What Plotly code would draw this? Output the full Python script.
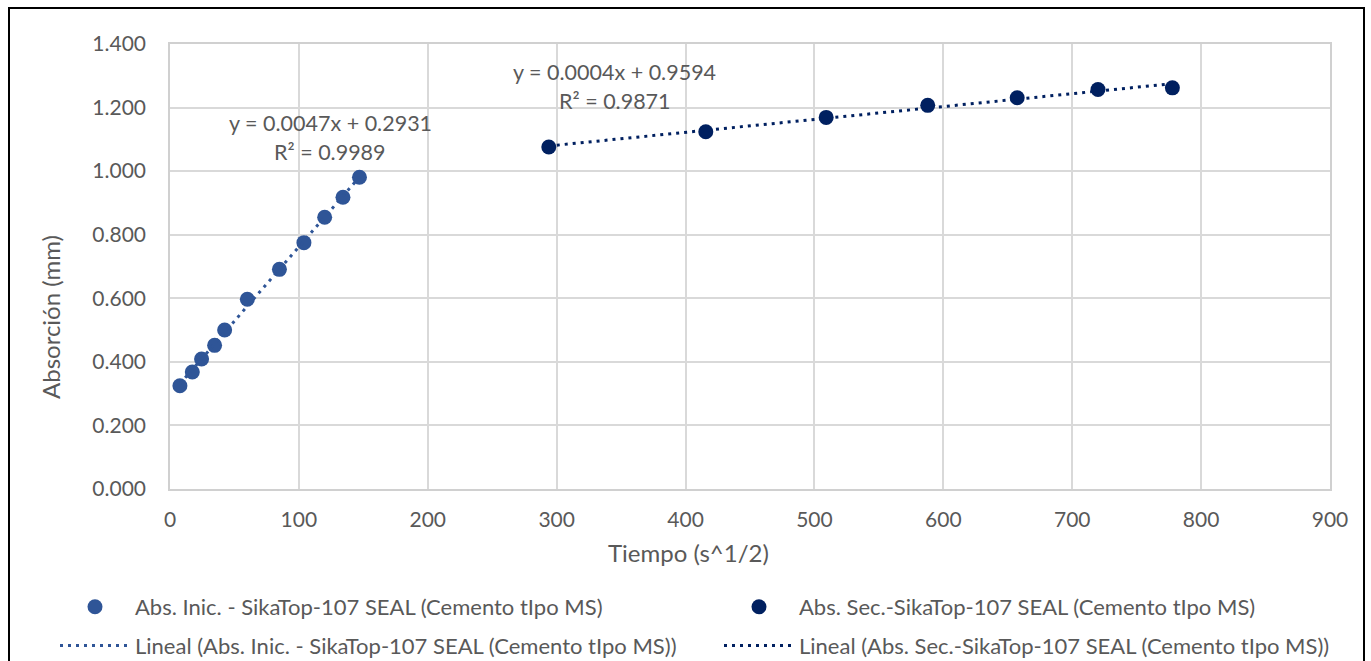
import plotly.graph_objects as go
import numpy as np

# ---- data ----
x_inic = [7.7, 17.3, 24.5, 34.6, 42.4, 60.0, 84.9, 103.9, 120.0, 134.2, 147.0]
y_inic = [0.325, 0.368, 0.409, 0.452, 0.500, 0.597, 0.691, 0.775, 0.855, 0.918, 0.981]
x_sec = [293.9, 415.7, 509.1, 587.9, 657.3, 720.0, 777.7]
y_sec = [1.076, 1.124, 1.169, 1.207, 1.231, 1.257, 1.262]

name_inic = "Abs. Inic. - SikaTop-107 SEAL (Cemento tIpo MS)"
name_sec = "Abs. Sec.-SikaTop-107 SEAL (Cemento tIpo MS)"
eq_inic = ["y = 0.0047x + 0.2931", "R² = 0.9989"]
eq_sec = ["y = 0.0004x + 0.9594", "R² = 0.9871"]
x_ticks = [0, 100, 200, 300, 400, 500, 600, 700, 800, 900]
y_ticks = [0.0, 0.2, 0.4, 0.6, 0.8, 1.0, 1.2, 1.4]

C1 = "#2F5597"
C2 = "#002060"
GRAY = "#595959"
FONT = "Lato"

# linear trendlines (least squares) over each series range
p1 = np.polyfit(x_inic, y_inic, 1)
p2 = np.polyfit(x_sec, y_sec, 1)
tx1 = [min(x_inic), max(x_inic)]
tx2 = [min(x_sec), max(x_sec)]
ty1 = list(np.polyval(p1, tx1))
ty2 = list(np.polyval(p2, tx2))

fig = go.Figure()
fig.add_trace(go.Scatter(x=x_inic, y=y_inic, mode="markers", name=name_inic,
                         marker=dict(color=C1, size=15), legend="legend", legendgroup="a"))
fig.add_trace(go.Scatter(x=tx1, y=ty1, mode="lines", name="Lineal (" + name_inic + ")",
                         line=dict(color=C1, width=3, dash="3px,5px"), legend="legend", legendgroup="b"))
fig.add_trace(go.Scatter(x=x_sec, y=y_sec, mode="markers", name=name_sec,
                         marker=dict(color=C2, size=15), legend="legend2", legendgroup="c"))
fig.add_trace(go.Scatter(x=tx2, y=ty2, mode="lines", name="Lineal (" + name_sec + ")",
                         line=dict(color=C2, width=3, dash="3px,5px"), legend="legend2", legendgroup="d"))

W, H = 1371, 661
L, R, T, B = 170, 41, 44, 172
pw, ph = W - L - R, H - T - B

def px(xp):
    return (xp - L) / pw

def py(yp):
    return (H - B - yp) / ph

ann = []
for txt, xd, yd in [(eq_inic[0], 124.5, 1.151), (eq_inic[1], 124.5, 1.060),
                    (eq_sec[0], 345.0, 1.312), (eq_sec[1], 345.0, 1.222)]:
    ann.append(dict(text=txt, x=xd, y=yd, xref="x", yref="y", showarrow=False,
                    xanchor="center", yanchor="middle", font=dict(family=FONT, size=21.5, color=GRAY)))
ann.append(dict(text="Absorción (mm)", x=px(50), y=py(317), xref="paper", yref="paper",
                showarrow=False, textangle=-90, xanchor="center", yanchor="middle",
                font=dict(family=FONT, size=24, color=GRAY)))
ann.append(dict(text="Tiempo (s^1/2)", x=px(688), y=py(552), xref="paper", yref="paper",
                showarrow=False, xanchor="center", yanchor="middle",
                font=dict(family=FONT, size=24, color=GRAY)))

legfont = dict(family=FONT, size=22, color=GRAY)
fig.update_layout(
    width=W, height=H,
    margin=dict(l=L, r=R, t=T, b=B, autoexpand=False),
    paper_bgcolor="white", plot_bgcolor="white",
    font=dict(family=FONT, size=21, color=GRAY),
    xaxis=dict(range=[0, 900], tickvals=x_ticks, ticktext=[str(v) for v in x_ticks],
               showgrid=True, gridcolor="#d9d9d9", gridwidth=1.5,
               showline=True, linecolor="#d0d0d0", linewidth=1.5, mirror=True,
               zeroline=False, ticks="", ticklabelstandoff=11,
               tickfont=dict(family=FONT, size=21, color=GRAY)),
    yaxis=dict(range=[0, 1.4], tickvals=y_ticks, ticktext=["%.3f" % v for v in y_ticks],
               showgrid=True, gridcolor="#d9d9d9", gridwidth=1.5,
               showline=True, linecolor="#d0d0d0", linewidth=1.5, mirror=True,
               zeroline=False, ticks="", ticklabelstandoff=18,
               tickfont=dict(family=FONT, size=21, color=GRAY)),
    legend=dict(x=px(55), y=py(586), xanchor="left", yanchor="top", orientation="v",
                font=legfont, itemwidth=70, tracegroupgap=7, traceorder="grouped",
                bgcolor="rgba(0,0,0,0)"),
    legend2=dict(x=px(719), y=py(586), xanchor="left", yanchor="top", orientation="v",
                 font=legfont, itemwidth=70, tracegroupgap=7, traceorder="grouped",
                 bgcolor="rgba(0,0,0,0)"),
    annotations=ann,
    shapes=[dict(type="rect", xref="paper", yref="paper",
                 x0=px(9), x1=px(1364), y0=py(675), y1=py(8),
                 line=dict(color="black", width=2), fillcolor="rgba(0,0,0,0)", layer="above")],
)

fig.write_html("out.html")
